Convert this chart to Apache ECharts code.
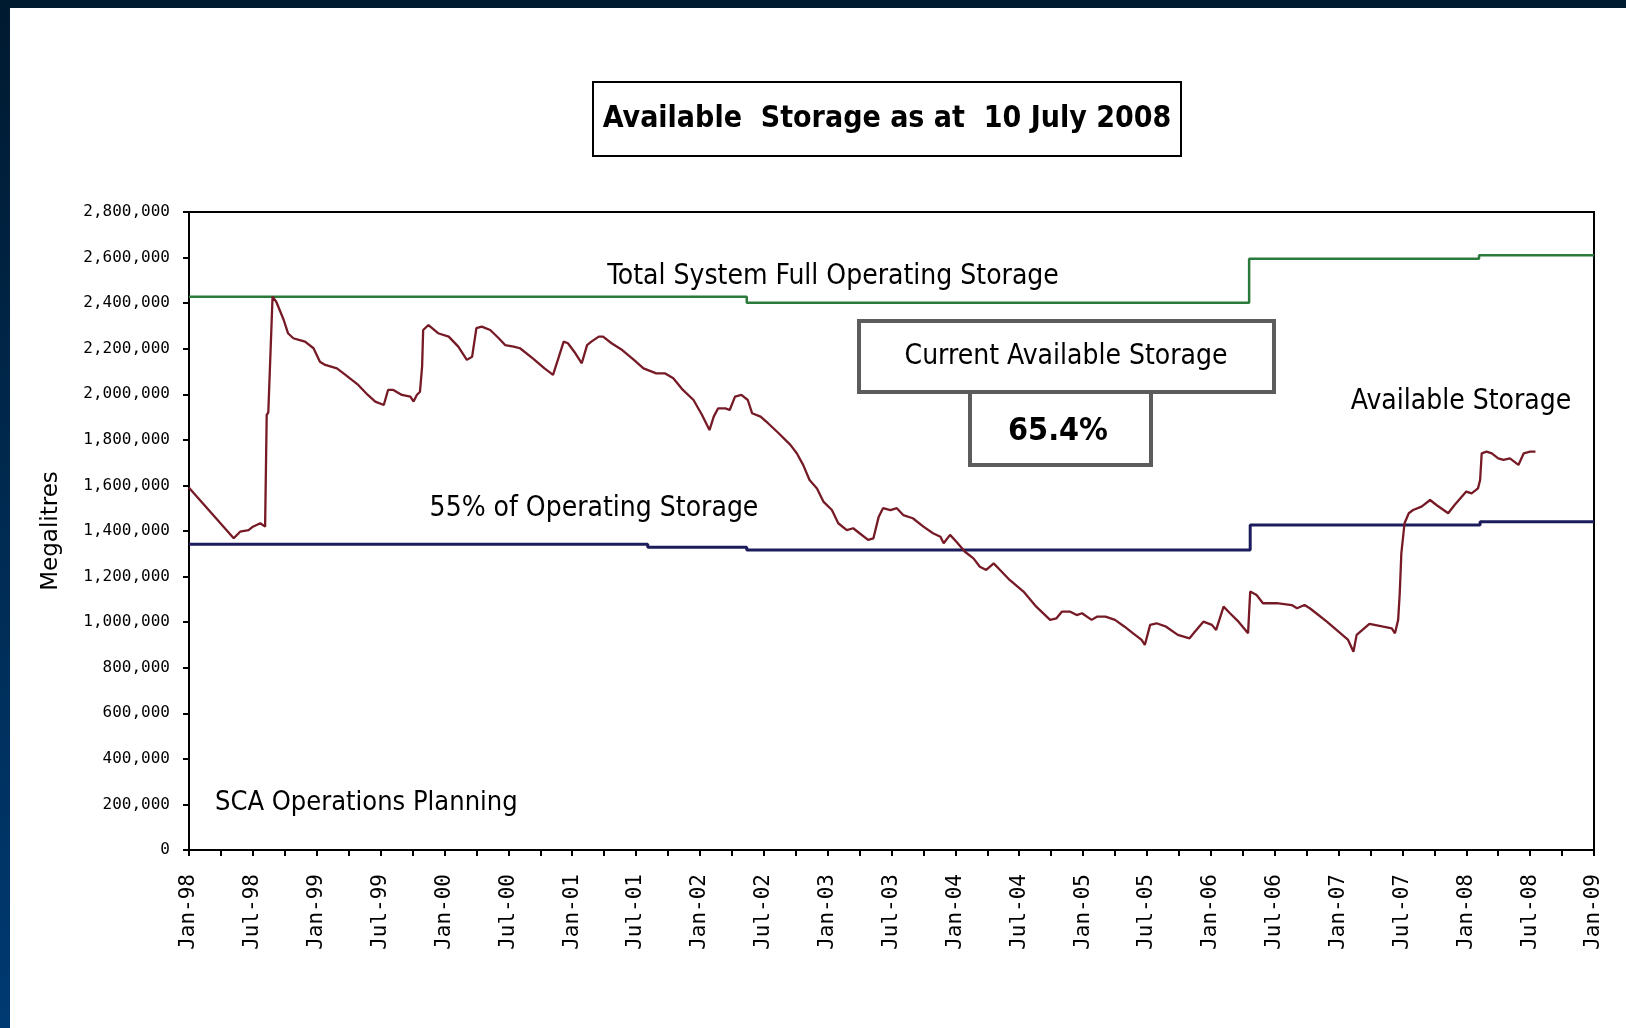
<!DOCTYPE html>
<html><head><meta charset="utf-8">
<script src="https://cdn.jsdelivr.net/npm/echarts@6/dist/echarts.min.js"></script>
<style>html,body{margin:0;padding:0;background:#fff;}#c{width:1626px;height:1028px;}</style>
</head><body><div id="c"></div><script>
// Tick labels
const xTickLabels = ['Jan-98','Jul-98','Jan-99','Jul-99','Jan-00','Jul-00','Jan-01','Jul-01','Jan-02','Jul-02','Jan-03','Jul-03','Jan-04','Jul-04','Jan-05','Jul-05','Jan-06','Jul-06','Jan-07','Jul-07','Jan-08','Jul-08','Jan-09'];
const yTickLabels = ['0','200,000','400,000','600,000','800,000','1,000,000','1,200,000','1,400,000','1,600,000','1,800,000','2,000,000','2,200,000','2,400,000','2,600,000','2,800,000'];

// Available storage (months since Jan-98, megalitres)
const availMonths = [0,4.2,4.8,5.6,6.0,6.7,7.15,7.3,7.45,7.85,8.2,8.9,9.3,9.8,10.4,10.9,11.7,12.3,12.8,13.9,14.7,15.3,15.9,16.8,17.5,18.3,18.7,19.2,20.0,20.8,21.1,21.4,21.7,21.9,22.0,22.5,23.4,24.4,25.3,26.1,26.6,27.0,27.5,28.3,29.1,29.7,30.5,31.1,32.3,33.4,34.2,34.7,35.2,35.6,36.3,36.9,37.4,37.8,38.5,38.9,39.7,40.7,41.8,42.7,43.9,44.7,45.5,46.4,47.4,48.2,48.9,49.3,49.7,50.4,50.8,51.3,51.9,52.5,52.9,53.7,54.4,55.4,56.5,57.1,57.7,58.3,59.0,59.6,60.4,61.0,61.8,62.4,63.0,63.8,64.3,64.8,65.2,65.9,66.5,67.1,68.0,69.0,69.9,70.6,70.9,71.5,72.1,72.9,73.7,74.3,74.9,75.6,76.2,77.1,78.4,79.6,80.9,81.5,82.0,82.8,83.4,83.9,84.8,85.3,86.1,87.0,87.9,88.7,89.5,89.8,90.3,90.9,91.8,92.9,94.0,94.5,95.3,96.1,96.5,97.2,97.8,98.6,99.5,99.7,100.3,100.9,102.2,103.6,104.1,104.8,105.3,105.9,106.9,108.0,108.9,109.4,109.7,110.9,112.2,113.0,113.3,113.6,113.75,113.9,114.2,114.6,115.0,115.8,116.6,117.2,118.3,118.9,120.0,120.5,121.1,121.3,121.45,121.9,122.4,123.0,123.5,124.1,124.9,125.4,126.0,126.5];
const availValues = [1590000,1368000,1397000,1404000,1419000,1434000,1419000,1910000,1920000,2428000,2406000,2326000,2268000,2246000,2238000,2231000,2202000,2143000,2129000,2114000,2085000,2063000,2041000,1997000,1968000,1953000,2019000,2019000,1997000,1990000,1968000,1997000,2011000,2121000,2282000,2304000,2268000,2253000,2209000,2151000,2165000,2290000,2297000,2282000,2246000,2216000,2209000,2202000,2158000,2114000,2085000,2158000,2231000,2224000,2180000,2136000,2216000,2231000,2253000,2253000,2224000,2194000,2151000,2114000,2092000,2092000,2070000,2019000,1975000,1909000,1843000,1902000,1938000,1938000,1931000,1990000,1997000,1975000,1917000,1902000,1873000,1829000,1778000,1741000,1690000,1624000,1587000,1529000,1492000,1434000,1404000,1412000,1390000,1361000,1368000,1463000,1500000,1492000,1500000,1470000,1456000,1419000,1390000,1375000,1346000,1383000,1353000,1309000,1280000,1243000,1229000,1258000,1229000,1185000,1134000,1068000,1010000,1017000,1046000,1046000,1031000,1039000,1010000,1024000,1024000,1010000,980000,951000,922000,900000,988000,995000,980000,944000,929000,958000,1002000,988000,966000,1068000,1039000,1002000,951000,1134000,1119000,1083000,1083000,1075000,1061000,1075000,1061000,1039000,1002000,958000,922000,870000,944000,992000,980000,973000,951000,1010000,1127000,1302000,1434000,1478000,1492000,1507000,1536000,1514000,1478000,1514000,1573000,1565000,1587000,1624000,1741000,1748000,1741000,1719000,1712000,1719000,1690000,1741000,1748000,1748000];

// Total system full operating storage (step levels)
const fullMonths = [0, 52.4, 99.6, 121.2, 132];
const fullValues = [2428000, 2402000, 2595000, 2610000, 2610000];

// 55% of operating storage (step levels)
const pctMonths = [0, 43.1, 52.4, 99.7, 121.3, 132];
const pctValues = [1342000, 1329000, 1317000, 1426000, 1441000, 1441000];

const zip = (a, b) => a.map((v, i) => [v, b[i]]);

const annFont = '"Liberation Sans Narrow", "DejaVu Sans Condensed", "Arial Narrow", sans-serif';

const chart = echarts.init(document.getElementById('c'), null, {renderer: 'canvas'});
chart.setOption({
  animation: false,
  backgroundColor: '#ffffff',
  grid: {left: 189, right: 32, top: 212, bottom: 178, show: true, borderColor: '#000', borderWidth: 2, backgroundColor: 'transparent', outerBoundsMode: 'none', containLabel: false},
  xAxis: {
    type: 'value', min: 0, max: 132, interval: 3,
    axisLine: {show: true, onZero: false, lineStyle: {color: '#000', width: 2}},
    axisTick: {show: true, length: 6, lineStyle: {color: '#000', width: 2}},
    splitLine: {show: false},
    axisLabel: {
      rotate: 90, margin: 24, color: '#000', fontSize: 21, fontFamily: '"DejaVu Sans Mono", monospace',
      showMinLabel: true, showMaxLabel: true,
      formatter: v => (Math.round(v) % 6 === 0 ? xTickLabels[Math.round(v) / 6] : '')
    }
  },
  yAxis: {
    type: 'value', min: 0, max: 2800000, interval: 200000,
    name: 'Megalitres', nameLocation: 'middle', nameGap: 126,
    nameTextStyle: {color: '#000', fontSize: 23, fontFamily: '"DejaVu Sans", sans-serif'},
    axisLine: {show: true, lineStyle: {color: '#000', width: 2}},
    axisTick: {show: true, length: 6, lineStyle: {color: '#000', width: 2}},
    splitLine: {show: false},
    axisLabel: {
      margin: 19, color: '#000', fontSize: 16, fontFamily: '"DejaVu Sans Mono", monospace',
      showMinLabel: true, showMaxLabel: true,
      formatter: v => yTickLabels[Math.round(v / 200000)]
    }
  },
  series: [
    {name: 'Total System Full Operating Storage', type: 'line', step: 'end', data: zip(fullMonths, fullValues), symbol: 'none', lineStyle: {color: '#2a7a3b', width: 2.5}, z: 2},
    {name: '55% of Operating Storage', type: 'line', step: 'end', data: zip(pctMonths, pctValues), symbol: 'none', lineStyle: {color: '#1c1c5c', width: 3}, z: 2},
    {name: 'Available Storage', type: 'line', data: zip(availMonths, availValues), symbol: 'none', lineStyle: {color: '#761a26', width: 2.3}, z: 3}
  ],
  graphic: [
    {type: 'rect', left: 0, top: 0, shape: {width: 1626, height: 8}, style: {fill: '#001a2f'}, z: 50},
    {type: 'rect', left: 0, top: 0, shape: {width: 10, height: 1028}, style: {fill: new echarts.graphic.LinearGradient(0, 0, 0, 1, [{offset: 0, color: '#001a30'}, {offset: 1, color: '#003a72'}])}, z: 50},
    {type: 'rect', shape: {x: 593, y: 82, width: 588, height: 74}, style: {fill: '#fff', stroke: '#000', lineWidth: 2}, z: 50},
    {type: 'text', x: 887, y: 119, style: {text: 'Available  Storage as at  10 July 2008', fill: '#000', font: 'bold 30px ' + annFont, align: 'center', verticalAlign: 'middle'}, z: 51},
    {type: 'text', x: 833, y: 277, style: {text: 'Total System Full Operating Storage', fill: '#000', font: '28px ' + annFont, align: 'center', verticalAlign: 'middle'}, z: 51},
    {type: 'text', x: 594, y: 509, style: {text: '55% of Operating Storage', fill: '#000', font: '28px ' + annFont, align: 'center', verticalAlign: 'middle'}, z: 51},
    {type: 'text', x: 1461, y: 402, style: {text: 'Available Storage', fill: '#000', font: '28px ' + annFont, align: 'center', verticalAlign: 'middle'}, z: 51},
    {type: 'text', x: 215, y: 803, style: {text: 'SCA Operations Planning', fill: '#000', font: '27px ' + annFont, align: 'left', verticalAlign: 'middle'}, z: 51},
    {type: 'rect', shape: {x: 859, y: 321, width: 415, height: 71}, style: {fill: '#fff', stroke: '#5c5c5c', lineWidth: 4}, z: 50},
    {type: 'text', x: 1066, y: 357, style: {text: 'Current Available Storage', fill: '#000', font: '28px ' + annFont, align: 'center', verticalAlign: 'middle'}, z: 51},
    {type: 'rect', shape: {x: 970, y: 392, width: 181, height: 73}, style: {fill: '#fff', stroke: '#5c5c5c', lineWidth: 4}, z: 50},
    {type: 'text', x: 1058, y: 432, style: {text: '65.4%', fill: '#000', font: 'bold 32px ' + annFont, align: 'center', verticalAlign: 'middle'}, z: 51}
  ]
});
</script></body></html>
